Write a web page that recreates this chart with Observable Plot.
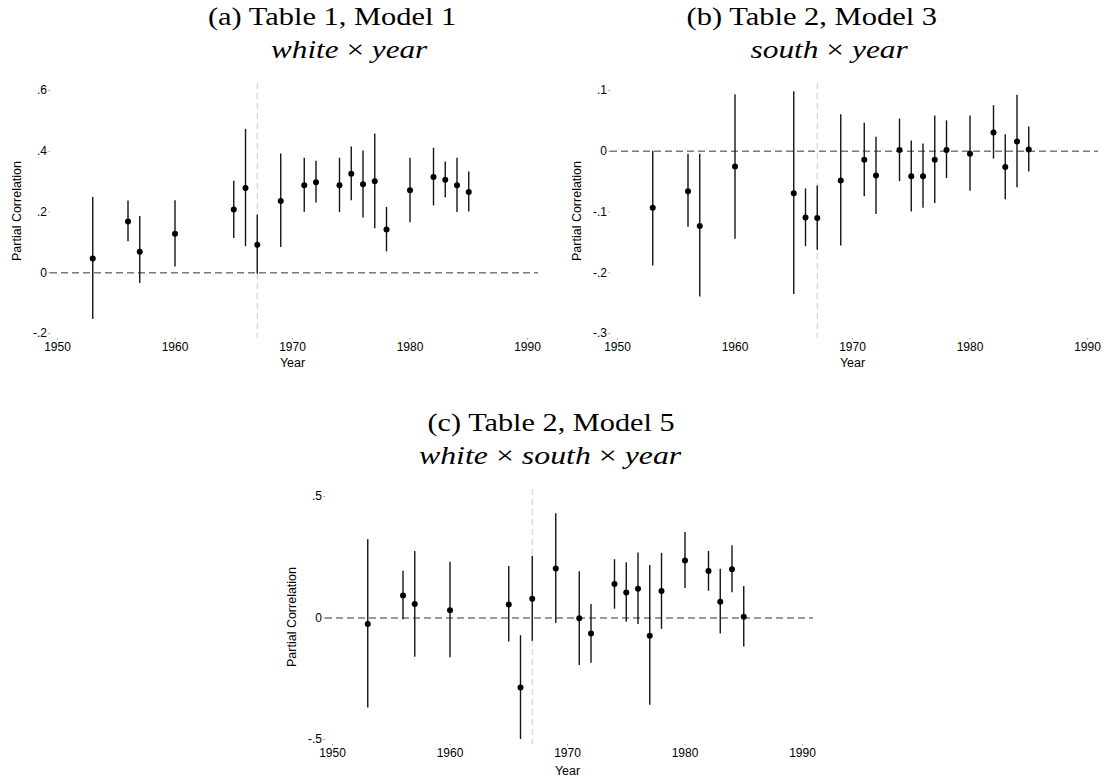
<!DOCTYPE html>
<html><head><meta charset="utf-8">
<script src="https://cdn.jsdelivr.net/npm/d3@7"></script>
<script src="https://cdn.jsdelivr.net/npm/@observablehq/plot@0.6"></script>
<style>
body{margin:0;background:#fff;}
#wrap{position:relative;width:1107px;height:779px;overflow:hidden;background:#fff;}
.t{position:absolute;font-family:"Liberation Serif",serif;font-size:26px;color:#000;white-space:nowrap;line-height:1;transform-origin:50% 50%;}
</style></head><body><div id="wrap"></div>
<script>
const years = [1953,1956,1957,1960,1965,1966,1967,1969,1971,1972,1974,1975,1976,1977,1978,1980,1982,1983,1984,1985];
const xTicks = [1950,1960,1970,1980,1990];
const cutoffYear = 1967;

// (a) Table 1, Model 1: white x year
const estA = [0.047,0.169,0.069,0.128,0.208,0.279,0.092,0.236,0.288,0.298,0.288,0.326,0.291,0.301,0.142,0.272,0.315,0.306,0.288,0.266];
const loA  = [-0.154,0.102,-0.035,0.019,0.113,0.086,-0.005,0.083,0.199,0.230,0.198,0.237,0.180,0.145,0.069,0.165,0.220,0.247,0.198,0.200];
const hiA  = [0.248,0.236,0.185,0.237,0.301,0.472,0.189,0.391,0.377,0.367,0.377,0.414,0.401,0.457,0.215,0.377,0.410,0.365,0.377,0.332];
const yTicksA = [0.6,0.4,0.2,0,-0.2];

// (b) Table 2, Model 3: south x year
const estB = [-0.093,-0.066,-0.123,-0.025,-0.069,-0.109,-0.110,-0.048,-0.014,-0.040,0.002,-0.041,-0.041,-0.014,0.002,-0.004,0.031,-0.026,0.016,0.003];
const loB  = [-0.189,-0.125,-0.240,-0.145,-0.236,-0.157,-0.163,-0.156,-0.075,-0.104,-0.050,-0.100,-0.094,-0.086,-0.045,-0.066,-0.013,-0.080,-0.060,-0.034];
const hiB  = [0.000,-0.005,-0.005,0.093,0.098,-0.062,-0.057,0.060,0.046,0.023,0.053,0.017,0.012,0.058,0.050,0.058,0.075,0.027,0.092,0.040];
const yTicksB = [0.1,0,-0.1,-0.2,-0.3];

// (c) Table 2, Model 5: white x south x year
const estC = [-0.025,0.093,0.058,0.032,0.056,-0.286,0.079,0.204,-0.001,-0.064,0.140,0.105,0.120,-0.073,0.111,0.237,0.193,0.067,0.201,0.005];
const loC  = [-0.370,-0.007,-0.162,-0.164,-0.099,-0.500,-0.096,-0.023,-0.195,-0.186,0.036,-0.018,-0.027,-0.359,-0.047,0.121,0.110,-0.066,0.104,-0.119];
const hiC  = [0.322,0.192,0.274,0.229,0.212,-0.073,0.253,0.429,0.190,0.056,0.240,0.227,0.268,0.216,0.266,0.352,0.274,0.201,0.297,0.130];
const yTicksC = [0.5,0,-0.5];

const wrap = document.getElementById("wrap");
const fmt = d => d === 0 ? "0" : String(d).replace("0.", ".");

// one title line: centred at cx, baseline at by, stretched to width w (Computer Modern is wider than Times)
function addLine(html, cx, by, w) {
  const el = document.createElement("div");
  el.className = "t";
  el.innerHTML = html;
  el.style.top = (by - 21.8) + "px";
  wrap.appendChild(el);
  const nat = el.offsetWidth;
  el.style.left = (cx - nat / 2) + "px";
  el.style.transform = `scaleX(${w / nat})`;
}

function panel(est, lo, hi, yTicks, left, top, width, yearDy) {
  const data = years.map((y, i) => ({year: y, est: est[i], lo: lo[i], hi: hi[i]}));
  const ymax = d3.max(yTicks), ymin = d3.min(yTicks), span = ymax - ymin;
  const chart = Plot.plot({
    width, height: 300,
    marginLeft: 50, marginRight: width - 538, marginTop: 13, marginBottom: 32,
    style: {fontFamily: "'Liberation Sans', Arial, sans-serif", fontSize: "12px", background: "transparent", color: "#000", overflow: "visible"},
    x: {domain: [1949.404, 1990.936]},
    y: {domain: [ymin - span * 5 / 243, ymax + span * 7 / 243]},
    marks: [
      Plot.ruleY([0], {stroke: "#7a7a7a", strokeWidth: 1.4, strokeDasharray: "7,4"}),
      Plot.ruleX([cutoffYear], {stroke: "#d0d0d0", strokeWidth: 1.1, strokeDasharray: "6,4"}),
      Plot.ruleX(data, {x: "year", y1: "lo", y2: "hi", stroke: "#151515", strokeWidth: 1.4}),
      Plot.dot(data, {x: "year", y: "est", r: 3, fill: "#000", stroke: "none"}),
      Plot.axisX({ticks: xTicks, tickFormat: d => String(d), tickSize: 1.5, tickPadding: 2.5, stroke: "#999", fill: "#000", fontSize: 12, label: null}),
      Plot.axisY({ticks: yTicks, tickFormat: fmt, tickSize: 1.5, tickPadding: 2, stroke: "#999", fill: "#000", fontSize: 12, label: null}),
      Plot.text(["Year"], {x: () => 1970, text: d => d, frameAnchor: "bottom", lineAnchor: "middle", dy: yearDy, fill: "#000", fontSize: 12.5}),
      Plot.text(["Partial Correlation"], {text: d => d, frameAnchor: "left", textAnchor: "middle", dx: -34, rotate: -90, fill: "#000", fontSize: 12.5})
    ]
  });
  chart.style.position = "absolute";
  chart.style.left = left + "px";
  chart.style.top = top + "px";
  wrap.appendChild(chart);
}

panel(estA, loA, hiA, yTicksA, 0, 70, 553, 24);
panel(estB, loB, hiB, yTicksB, 560, 70, 547, 24);
panel(estC, loC, hiC, yTicksC, 275, 476, 553, 26);

addLine("(a) Table 1, Model 1", 332, 26, 248);
addLine("<i>white</i> × <i>year</i>", 349, 59, 156);
addLine("(b) Table 2, Model 3", 812, 26, 251);
addLine("<i>south</i> × <i>year</i>", 829, 59, 157);
addLine("(c) Table 2, Model 5", 551, 432, 247);
addLine("<i>white</i> × <i>south</i> × <i>year</i>", 550, 465, 262);
</script>
</body></html>
